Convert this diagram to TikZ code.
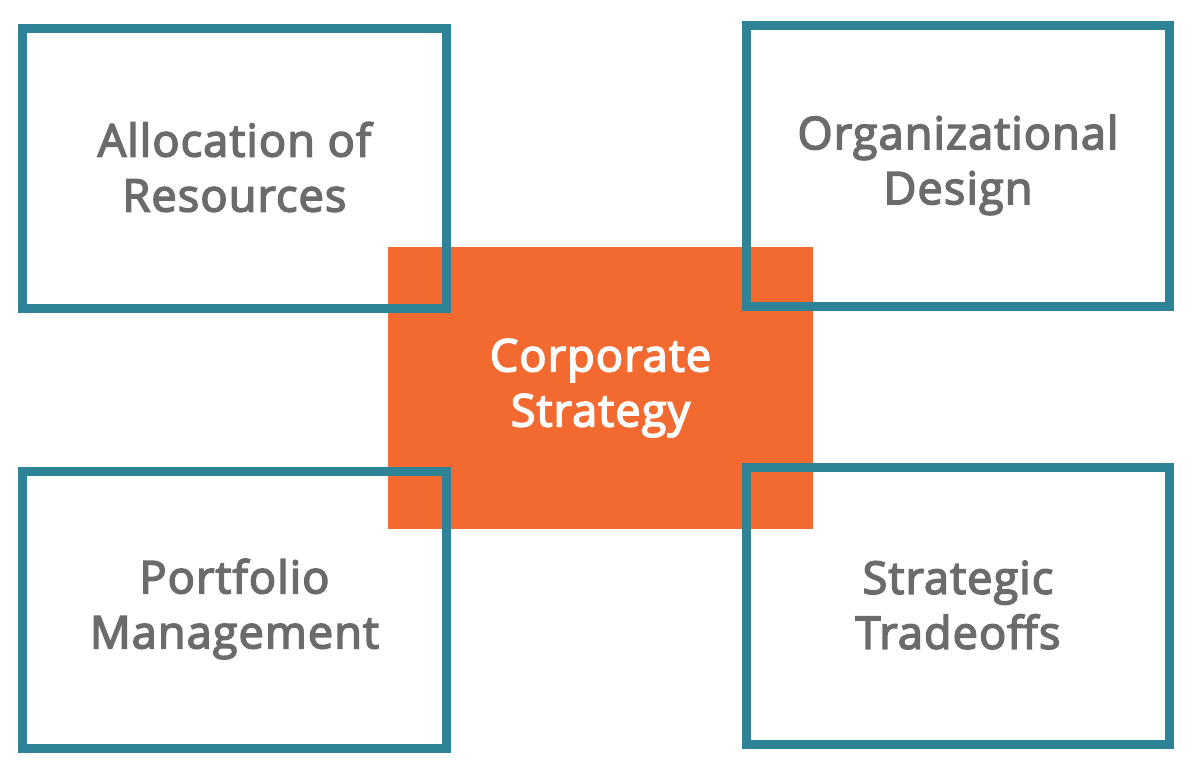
\documentclass[tikz,border=0pt]{standalone}
\usepackage{fontspec}
\setmainfont{Open Sans}
\newfontfamily\semib{Open Sans}[FakeBold=3.5, LetterSpace=2.5]
\definecolor{teal}{HTML}{2E8496}
\definecolor{orng}{HTML}{F26A30}
\definecolor{txtgray}{HTML}{6B6B6B}
\tikzset{
  frame/.style={draw=teal, line width=9pt, line join=miter},
  lbl/.style={align=center, font=\semib\fontsize{45}{55}\selectfont, text=txtgray, inner sep=0pt},
}
\begin{document}
\begin{tikzpicture}[x=1pt,y=-1pt]
\useasboundingbox (0,0) rectangle (1200,774);
\fill[orng] (388,247) rectangle (813,529);
\node[lbl, text=white] (center) at (600.5,388) {Corporate\\Strategy};
\draw[frame] (22.5,28.5) rectangle (446.5,308.5);
\draw[frame] (746.5,25.5) rectangle (1169.5,306.5);
\draw[frame] (22.5,471.5) rectangle (446.5,748.5);
\draw[frame] (746.5,467.5) rectangle (1169.5,744.5);
\node[lbl] (alloc) at (234.5,167) {Allocation of\\Resources};
\node[lbl] (org) at (958,165) {Organizational\\Design};
\node[lbl] (port) at (234.5,609) {Portfolio\\Management};
\node[lbl] (trade) at (958,605) {Strategic\\Tradeoffs};
\end{tikzpicture}
\end{document}
